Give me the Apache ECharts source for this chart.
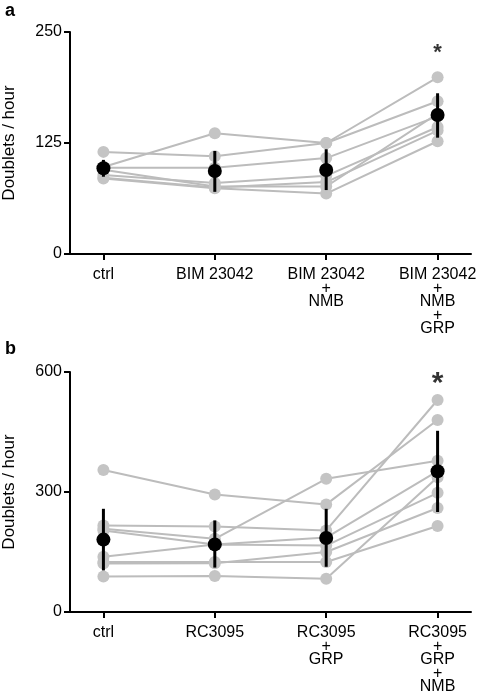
<!DOCTYPE html>
<html>
<head>
<meta charset="utf-8">
<script src="https://cdn.jsdelivr.net/npm/echarts@6/dist/echarts.min.js"></script>
<style>html,body{margin:0;padding:0;background:#fff}#c{width:479px;height:693px}</style>
</head>
<body>
<div id="c"></div>
<script>
// ---------- Panel a data ----------
const catsA = ['ctrl', 'BIM 23042', 'BIM 23042\n+\nNMB', 'BIM 23042\n+\nNMB\n+\nGRP'];
const a1 = [98, 136, 125, 172];
const a2 = [115, 110, 125, 199];
const a3 = [97, 97, 108, 155];
const a4 = [89, 80, 88, 143];
const a5 = [86, 75, 81, 139];
const a6 = [85, 74, 68, 127];
const a7 = [95, 76, 76, 158];
const meanA = [96.5, 93.5, 94.6, 156.5];
const errLowA = [87, 70, 72, 131];
const errHighA = [106, 116, 118, 181];
const yTicksA = [0, 125, 250];
const starA = [3, 226];

// ---------- Panel b data ----------
const catsB = ['ctrl', 'RC3095', 'RC3095\n+\nGRP', 'RC3095\n+\nGRP\n+\nNMB'];
const b1 = [355, 294, 269, 480];
const b2 = [216, 214, 204, 530];
const b3 = [208, 183, 333, 378];
const b4 = [204, 169, 186, 352];
const b5 = [138, 169, 166, 298];
const b6 = [125, 125, 125, 215];
const b7 = [121, 122, 150, 260];
const b8 = [89, 90, 83, 337];
const meanB = [181, 169, 185, 352];
const errLowB = [104, 111, 113, 250];
const errHighB = [258, 229, 258, 453];
const yTicksB = [0, 300, 600];
const starB = [3, 570];

const FONT = 'Liberation Sans';
const GRAY_LINE = '#bcbcbc';
const GRAY_DOT = '#c4c4c4';

function xAxisFor(grid, cats) {
  return {
    type: 'value', gridIndex: grid, min: -0.3, max: 3.3,
    splitLine: { show: false },
    axisLine: { show: true, onZero: false, lineStyle: { color: '#000', width: 2 } },
    axisTick: { show: true, customValues: [0, 1, 2, 3], length: 6, inside: false, lineStyle: { color: '#000', width: 2 } },
    axisLabel: {
      customValues: [0, 1, 2, 3],
      formatter: v => cats[Math.round(v)] || '',
      margin: 14, lineHeight: 13.5, fontSize: 16, color: '#000', fontFamily: FONT, align: 'center'
    }
  };
}
function yAxisFor(grid, ticks) {
  return {
    type: 'value', gridIndex: grid, min: ticks[0], max: ticks[ticks.length - 1],
    interval: ticks[1] - ticks[0],
    splitLine: { show: false },
    axisLine: { show: true, onZero: false, lineStyle: { color: '#000', width: 2 } },
    axisTick: { show: true, length: 6, lineStyle: { color: '#000', width: 2 } },
    axisLabel: { fontSize: 16, color: '#000', fontFamily: FONT, margin: 8 },
    name: 'Doublets / hour', nameLocation: 'middle', nameGap: 52,
    nameTextStyle: { fontSize: 17, color: '#000', fontFamily: FONT }
  };
}

function panelSeries(idx, subjects, mean, lo, hi, star, starSize) {
  const s = [];
  subjects.forEach(arr => {
    s.push({
      type: 'line', xAxisIndex: idx, yAxisIndex: idx,
      data: arr.map((v, i) => [i, v]),
      symbol: 'circle', symbolSize: 12, showSymbol: true,
      itemStyle: { color: GRAY_DOT, opacity: 1 },
      lineStyle: { color: GRAY_LINE, width: 2 },
      z: 2, silent: true, animation: false
    });
  });
  s.push({
    type: 'custom', xAxisIndex: idx, yAxisIndex: idx,
    data: mean.map((m, i) => [i, lo[i], hi[i]]),
    renderItem: (params, api) => {
      const x = api.value(0);
      const p1 = api.coord([x, api.value(1)]);
      const p2 = api.coord([x, api.value(2)]);
      return { type: 'line', shape: { x1: p1[0], y1: p1[1], x2: p2[0], y2: p2[1] }, style: { stroke: '#000', lineWidth: 3 } };
    },
    z: 5, silent: true, animation: false
  });
  s.push({
    type: 'scatter', xAxisIndex: idx, yAxisIndex: idx,
    data: mean.map((m, i) => [i, m]),
    symbol: 'circle', symbolSize: 14, itemStyle: { color: '#000', opacity: 1 },
    z: 6, silent: true, animation: false
  });
  s.push({
    type: 'scatter', xAxisIndex: idx, yAxisIndex: idx,
    data: [star], symbolSize: 0,
    label: { show: true, formatter: '*', position: 'inside', fontSize: starSize, fontWeight: 'bold', color: '#000', fontFamily: FONT },
    z: 7, silent: true, animation: false
  });
  return s;
}

const chart = echarts.init(document.getElementById('c'), null, { renderer: 'canvas' });
chart.setOption({
  animation: false,
  backgroundColor: '#fff',
  title: [
    { text: 'a', left: 0, top: -3, textStyle: { fontSize: 18, fontWeight: 'bold', color: '#000', fontFamily: FONT } },
    { text: 'b', left: 0, top: 335, textStyle: { fontSize: 18, fontWeight: 'bold', color: '#000', fontFamily: FONT } }
  ],
  grid: [
    { left: 70, right: 8, top: 32, height: 222, outerBoundsMode: 'none', containLabel: false },
    { left: 70, right: 8, top: 372, height: 240, outerBoundsMode: 'none', containLabel: false }
  ],
  xAxis: [xAxisFor(0, catsA), xAxisFor(1, catsB)],
  yAxis: [yAxisFor(0, yTicksA), yAxisFor(1, yTicksB)],
  series: [
    ...panelSeries(0, [a1, a2, a3, a4, a5, a6, a7], meanA, errLowA, errHighA, starA, 22),
    ...panelSeries(1, [b1, b2, b3, b4, b5, b6, b7, b8], meanB, errLowB, errHighB, starB, 30)
  ]
});
</script>
</body>
</html>
